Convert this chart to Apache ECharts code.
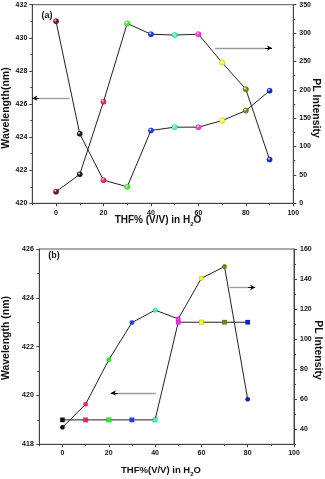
<!DOCTYPE html>
<html>
<head>
<meta charset="utf-8">
<script src="https://cdn.jsdelivr.net/npm/echarts@6/dist/echarts.min.js"></script>
<style>
html,body{margin:0;padding:0;background:#fff;}
#c{width:325px;height:479px;}
</style>
</head>
<body>
<div id="c"></div>
<script>
// ---- data ----
var thfA = [0, 10, 20, 30, 40, 50, 60, 70, 80, 90];
var wavelengthA = [431.0, 424.2, 421.4, 421.0, 424.4, 424.6, 424.6, 425.0, 425.6, 426.8];
var plA = [20.5, 51, 179, 317, 298, 296.5, 298, 248, 201, 77];
var colorsA = ['#7a1030', '#202020', '#ff2060', '#3cff1e', '#1440e0', '#3cffd2', '#ff3ce6', '#ffff1e', '#7a8a12', '#1430d2'];

var thfB = [0, 10, 20, 30, 40, 50, 60, 70, 80];
var wavelengthB = [419, 419, 419, 419, 419, 423, 423, 423, 423];
var plB = [41.3, 56.7, 86.2, 111, 119.3, 113.5, 140.5, 148.3, 60];
var colorsB = ['#101010', '#ff2458', '#20ff20', '#2040ff', '#30ffd0', '#ff30f0', '#ffff10', '#6e8a12', '#1020d0'];

var xTicks = [0, 20, 40, 60, 80, 100];
var xMinorTicks = [-10, 10, 30, 50, 70, 90];
var plBTicks = [40, 60, 80, 100, 120, 140, 160];
var plBMinorTicks = [30, 50, 70, 90, 110, 130, 150];

// ---- helpers ----
function sphere(c) {
  return {type: 'radial', x: 0.38, y: 0.35, r: 0.75,
    colorStops: [{offset: 0, color: '#ffffff'}, {offset: 0.35, color: c}, {offset: 1, color: c}]};
}
function pts(xs, ys, cols, sph) {
  return xs.map(function (x, i) {
    return {value: [x, ys[i]], itemStyle: {color: sph ? sphere(cols[i]) : cols[i], borderColor: 'rgba(0,0,0,0.35)', borderWidth: 0.5}};
  });
}
function arrow(x1, x2, y) {
  // gray shaft from x1 to near x2, black head at x2
  var dir = x2 > x1 ? 1 : -1;
  var hx = x2 - dir * 3;
  return [
    [{coord: [x1, y], symbol: 'none'}, {coord: [hx, y], symbol: 'none', lineStyle: {color: '#9a9a9a', width: 1.3, type: 'solid'}}],
    [{coord: [hx, y], symbol: 'none'}, {coord: [x2, y], symbol: 'arrow', symbolSize: [4, 5], lineStyle: {color: '#000', width: 1, type: 'solid'}}]
  ];
}
var FONT = 'Liberation Sans';
var axisCol = '#444';
var labelStyle = {fontFamily: FONT, fontWeight: 'bold', fontSize: 7, color: '#111'};

function xAxes(grid, margin) {
  return [
    {type: 'value', gridIndex: grid, min: -10, max: 100, position: 'bottom',
      axisLine: {show: true, onZero: false, lineStyle: {color: axisCol, width: 1}},
      axisTick: {show: true, length: 3, customValues: xTicks, lineStyle: {color: axisCol}},
      axisLabel: Object.assign({customValues: xTicks, margin: margin}, labelStyle),
      splitLine: {show: false}},
    {type: 'value', gridIndex: grid, min: -10, max: 100, position: 'bottom',
      axisLine: {show: false, onZero: false},
      axisTick: {show: true, length: 2, customValues: xMinorTicks, lineStyle: {color: axisCol}},
      axisLabel: {show: false}, splitLine: {show: false}}
  ];
}

var lineStyle = {color: '#222', width: 1};
var ml = function (d) { return {silent: true, animation: false, label: {show: false}, symbol: 'none', lineStyle: {type: 'solid'}, emphasis: {disabled: true}, data: d}; };
function subTitle(pre, size) {
  return {text: '{a|' + pre + 'H}{s|2}{a|O}', fontFamily: FONT, fontWeight: 'bold', fontSize: size, fill: '#111', textAlign: 'center', textVerticalAlign: 'middle',
    rich: {a: {fontFamily: FONT, fontWeight: 'bold', fontSize: size, fill: '#111', lineHeight: 14, verticalAlign: 'middle'},
           s: {fontFamily: FONT, fontWeight: 'bold', fontSize: 6, fill: '#111', lineHeight: 6, verticalAlign: 'bottom'}}};
}

var option = {
  animation: false,
  backgroundColor: '#fff',
  grid: [
    {left: 32.3, right: 31.7, top: 4.7, bottom: 275.7, show: true, borderColor: '#555', borderWidth: 1},
    {left: 39.3, right: 31, top: 249, bottom: 34.7, show: true, borderColor: '#555', borderWidth: 1}
  ],
  xAxis: xAxes(0, 6).concat(xAxes(1, 5.5)),
  yAxis: [
    // 0: (a) wavelength
    {type: 'value', gridIndex: 0, min: 420, max: 432, interval: 2, position: 'left',
      axisLine: {show: true, onZero: false, lineStyle: {color: axisCol}},
      axisTick: {show: true, length: 3, lineStyle: {color: axisCol}},
      minorTick: {show: true, splitNumber: 2, length: 2, lineStyle: {color: axisCol}},
      axisLabel: Object.assign({margin: 5}, labelStyle), splitLine: {show: false}},
    // 1: (a) PL
    {type: 'value', gridIndex: 0, min: 0, max: 350, interval: 50, position: 'right',
      axisLine: {show: true, onZero: false, lineStyle: {color: axisCol}},
      axisTick: {show: true, length: 3, lineStyle: {color: axisCol}},
      minorTick: {show: true, splitNumber: 2, length: 2, lineStyle: {color: axisCol}},
      axisLabel: Object.assign({margin: 6}, labelStyle), splitLine: {show: false}},
    // 2: (b) wavelength
    {type: 'value', gridIndex: 1, min: 418, max: 426, interval: 2, position: 'left',
      axisLine: {show: true, onZero: false, lineStyle: {color: axisCol}},
      axisTick: {show: true, length: 3, lineStyle: {color: axisCol}},
      minorTick: {show: true, splitNumber: 2, length: 2, lineStyle: {color: axisCol}},
      axisLabel: Object.assign({margin: 5.5}, labelStyle), splitLine: {show: false}},
    // 3: (b) PL
    {type: 'value', gridIndex: 1, min: 30, max: 160, position: 'right',
      axisLine: {show: true, onZero: false, lineStyle: {color: axisCol}},
      axisTick: {show: true, length: 3, customValues: plBTicks, lineStyle: {color: axisCol}},
      axisLabel: Object.assign({margin: 6, customValues: plBTicks}, labelStyle), splitLine: {show: false}},
    // 4: (b) PL minor ticks
    {type: 'value', gridIndex: 1, min: 30, max: 160, position: 'right',
      axisLine: {show: false, onZero: false},
      axisTick: {show: true, length: 2, customValues: plBMinorTicks, lineStyle: {color: axisCol}},
      axisLabel: {show: false}, splitLine: {show: false}}
  ],
  series: [
    {type: 'line', xAxisIndex: 0, yAxisIndex: 0, data: pts(thfA, wavelengthA, colorsA, true),
      symbol: 'circle', symbolSize: 5.5, lineStyle: lineStyle, z: 3,
      markLine: ml(arrow(5.6, -10, 426.35))},
    {type: 'line', xAxisIndex: 0, yAxisIndex: 1, data: pts(thfA, plA, colorsA, true),
      symbol: 'circle', symbolSize: 5.5, lineStyle: lineStyle, z: 3,
      markLine: ml(arrow(67, 91, 273.5))},
    {type: 'line', xAxisIndex: 2, yAxisIndex: 2, data: pts(thfB, wavelengthB, colorsB, false),
      symbol: 'rect', symbolSize: 4.5, lineStyle: lineStyle, z: 3,
      markLine: ml(arrow(40.3, 20.9, 420.1))},
    {type: 'line', xAxisIndex: 2, yAxisIndex: 3, data: pts(thfB, plB, colorsB, false),
      symbol: 'circle', symbolSize: 4.5, lineStyle: lineStyle, z: 3,
      markLine: ml(arrow(72.2, 83.2, 134.4))}
  ],
  graphic: [
    {type: 'text', x: 47, y: 16, style: {text: '(a)', fontFamily: FONT, fontWeight: 'bold', fontSize: 9, fill: '#111', textAlign: 'center', textVerticalAlign: 'middle'}},
    {type: 'text', x: 54, y: 256, style: {text: '(b)', fontFamily: FONT, fontWeight: 'bold', fontSize: 9, fill: '#111', textAlign: 'center', textVerticalAlign: 'middle'}},
    {type: 'text', x: 6, y: 108, rotation: Math.PI / 2, style: {text: 'Wavelength(nm)', fontFamily: FONT, fontWeight: 'bold', fontSize: 10.5, fill: '#111', textAlign: 'center', textVerticalAlign: 'middle'}},
    {type: 'text', x: 316, y: 108, rotation: -Math.PI / 2, style: {text: 'PL Intensity', fontFamily: FONT, fontWeight: 'bold', fontSize: 10.5, fill: '#111', textAlign: 'center', textVerticalAlign: 'middle'}},
    {type: 'text', x: 158, y: 220.5, style: subTitle('THF% (V/V) in ', 10)},
    {type: 'text', x: 6, y: 338, rotation: Math.PI / 2, style: {text: 'Wavelength (nm)', fontFamily: FONT, fontWeight: 'bold', fontSize: 10.5, fill: '#111', textAlign: 'center', textVerticalAlign: 'middle'}},
    {type: 'text', x: 318, y: 350, rotation: -Math.PI / 2, style: {text: 'PL Intensity', fontFamily: FONT, fontWeight: 'bold', fontSize: 10.5, fill: '#111', textAlign: 'center', textVerticalAlign: 'middle'}},
    {type: 'text', x: 161, y: 470, style: subTitle('THF%(V/V) in ', 9.5)}
  ]
};
var chart = echarts.init(document.getElementById('c'), null, {renderer: 'canvas'});
chart.setOption(option);
</script>
</body>
</html>
